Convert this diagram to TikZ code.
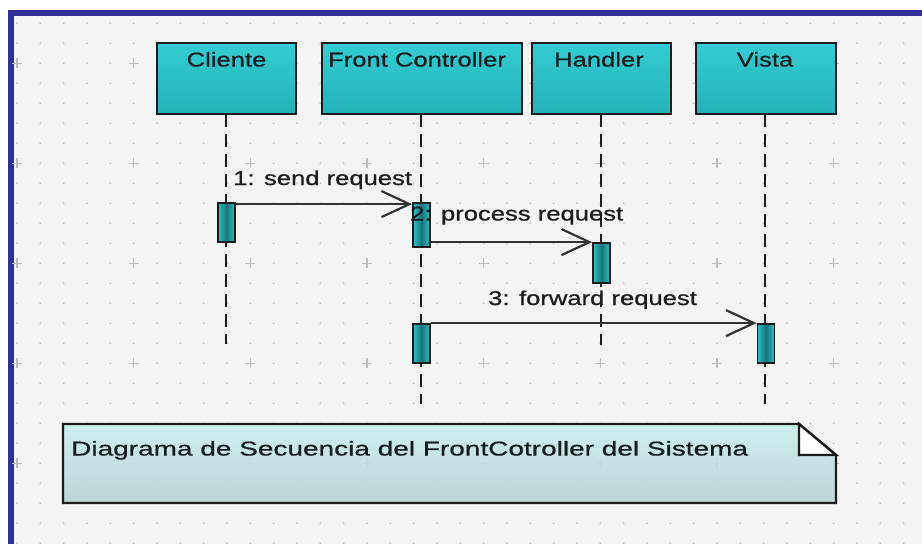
\documentclass[tikz,border=0pt]{standalone}
\usepackage{fontspec}
\setmainfont{Liberation Sans}
\newfontfamily\lblfont[FakeStretch=1.28,FakeBold=0.8]{Liberation Sans}
\newfontfamily\notefont[FakeStretch=1.40,FakeBold=0.8]{Liberation Sans}
\usetikzlibrary{arrows.meta}

\definecolor{frameblue}{RGB}{48,48,150}
\definecolor{canvas}{RGB}{244,244,244}
\definecolor{griddot}{RGB}{204,204,204}
\definecolor{gridplus}{RGB}{190,190,190}
\definecolor{boxtop}{RGB}{52,204,212}
\definecolor{boxbot}{RGB}{34,178,186}
\definecolor{edge}{RGB}{28,28,28}
\definecolor{barlight}{RGB}{50,190,194}
\definecolor{bardark}{RGB}{22,118,122}
\definecolor{notetop}{RGB}{202,238,238}
\definecolor{notebot}{RGB}{186,208,210}
\definecolor{ink}{RGB}{26,30,32}

\tikzset{
  lifebox/.style={draw=edge, line width=2.4pt, top color=boxtop, bottom color=boxbot,
    minimum height=71pt, inner sep=0pt},
  boxlabel/.style={anchor=base, font=\lblfont\fontsize{20}{24}\selectfont, text=ink, inner sep=0pt},
  lifeline/.style={draw=edge, line width=2.4pt, dash pattern=on 13pt off 7pt},
  actbar/.style={draw=edge, line width=1.8pt, left color=barlight, right color=barlight,
    middle color=bardark, minimum width=17pt, inner sep=0pt},
  msg/.style={draw=edge!90, line width=2.2pt,
    -{Straight Barb[length=28pt,width=26pt,line width=2.2pt]}},
  msglabel/.style={anchor=base west, font=\lblfont\fontsize{20}{24}\selectfont, text=ink, inner sep=0pt},
}

\begin{document}
\begin{tikzpicture}[x=1pt,y=-1pt]
  \useasboundingbox (0,0) rectangle (922,544);
  % page, border and canvas
  \fill[white] (0,0) rectangle (922,544);
  \fill[frameblue] (8,10) rectangle (922,544);
  \fill[canvas] (14,16) rectangle (922,544);
  % dotted grid with plus marks every fifth dot
  \foreach \i in {0,...,38}{
    \foreach \j in {1,...,27}{
      \fill[griddot] ({17+23.333*\i},{3.333+20*\j}) circle (1.1);
    }
  }
  \foreach \i in {0,5,...,35}{
    \foreach \j in {3,8,13,18,23}{
      \draw[gridplus, line width=1.2pt]
        ({17+23.333*\i-5},{3.333+20*\j}) -- ({17+23.333*\i+5},{3.333+20*\j})
        ({17+23.333*\i},{3.333+20*\j-5}) -- ({17+23.333*\i},{3.333+20*\j+5});
    }
  }

  % lifeline heads
  \node[lifebox, minimum width=139pt] (cli) at (226.5,78.5) {};
  \node[lifebox, minimum width=200pt] (fc)  at (422,78.5) {};
  \node[lifebox, minimum width=139pt] (hnd) at (601.5,78.5) {};
  \node[lifebox, minimum width=140pt] (vis) at (766,78.5) {};
  \node[boxlabel] (cliT) at (226.5,66.5) {Cliente};
  \node[boxlabel] (fcT)  at (417,66.5) {Front Controller};
  \node[boxlabel] (hndT) at (599,66.5) {Handler};
  \node[boxlabel] (visT) at (765,66.5) {Vista};

  % lifelines
  \coordinate (cliTop) at (226,114);
  \coordinate (fcTop)  at (421,114);
  \coordinate (hndTop) at (601,114);
  \coordinate (visTop) at (765,114);
  \coordinate (cliEnd) at (226,344);
  \coordinate (fcEnd)  at (421,404);
  \coordinate (hndEnd) at (601,345);
  \coordinate (visEnd) at (765,404);
  \draw[lifeline] (cliTop) -- (cliEnd);
  \draw[lifeline] (fcTop) -- (fcEnd);
  \draw[lifeline] (hndTop) -- (hndEnd);
  \draw[lifeline] (visTop) -- (visEnd);

  % activation bars
  \node[actbar, minimum height=39pt] (aCli) at (226.5,222.5) {};
  \node[actbar, minimum height=44pt] (aFc1) at (421.5,225) {};
  \node[actbar, minimum height=39pt] (aFc2) at (421.5,343.5) {};
  \node[actbar, minimum height=40pt] (aHnd) at (601.5,263) {};
  \node[actbar, minimum height=39pt] (aVis) at (766,343.5) {};

  % messages
  \draw[msg] ([yshift=-2pt]aCli.north east) -- ([yshift=-2pt]aFc1.north west);
  \draw[msg] (aFc1.east |- aHnd.north) -- (aHnd.north west);
  \draw[msg] (aFc2.north east) -- (aVis.north west);
  \node[msglabel] (m1) at (233,185) {1: send request};
  \node[msglabel] (m2) at (410,220.5) {2: process request};
  \node[msglabel] (m3) at (488,305) {3: forward request};

  % note with folded corner
  \shade[top color=notetop, bottom color=notebot, fill opacity=0.9]
    (63,424) -- (799,424) -- (836,455) -- (836,503) -- (63,503) -- cycle;
  \draw[edge, line width=2.4pt, line join=miter]
    (63,424) -- (799,424) -- (836,455) -- (836,503) -- (63,503) -- cycle;
  \filldraw[fill=white, draw=edge, line width=2.4pt, line join=miter]
    (799,424) -- (799,455) -- (836,455) -- cycle;
  \node[anchor=base west, font=\notefont\fontsize{20}{24}\selectfont, text=ink, inner sep=0pt]
    (noteT) at (71,455.5) {Diagrama de Secuencia del FrontCotroller del Sistema};
\end{tikzpicture}
\end{document}
